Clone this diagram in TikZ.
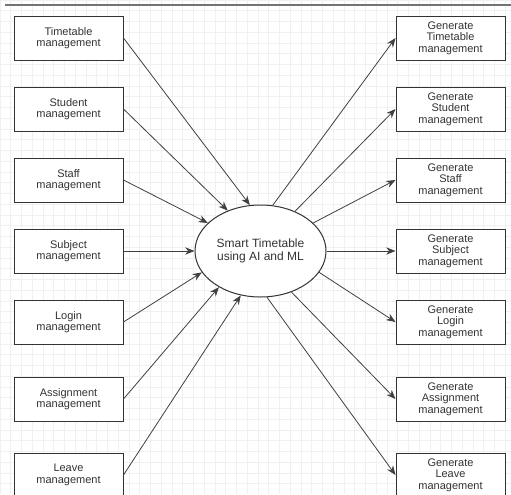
\documentclass[tikz,border=0pt]{standalone}
\usepackage{fontspec}
\setmainfont{Liberation Sans}
\usetikzlibrary{arrows.meta,shapes.geometric}
\definecolor{gridgrey}{HTML}{F0F0F0}
\definecolor{inkgrey}{HTML}{333333}
\tikzset{
  gridline/.style={gridgrey,line width=0.45pt},
  frameline/.style={black!55,line width=0.8pt},
  modbox/.style={draw=inkgrey,line width=0.75pt,fill=white,text=inkgrey,
        minimum width=81.75pt,minimum height=33pt,inner sep=0pt,align=center,
        font=\fontsize{8.25}{8.6}\selectfont},
  hub/.style={ellipse,draw=inkgrey,line width=0.75pt,fill=white,text=inkgrey,
        minimum width=98.25pt,minimum height=69pt,inner sep=0pt,align=center,
        font=\fontsize{9}{10}\selectfont},
  link/.style={draw=black!75,line width=0.6pt,-{Stealth[length=7pt,width=5.5pt]}},
}

\begin{document}
\begin{tikzpicture}[x=0.75pt,y=-0.75pt]
  \useasboundingbox (0,0) rectangle (511,494);
  \clip (0,0) rectangle (511,494);
  % background grid
  \foreach \g in {0,10.75,...,511} \draw[gridline] (\g,0) -- (\g,494);
  \foreach \g in {0,10.75,...,494} \draw[gridline] (0,\g) -- (511,\g);
  \draw[frameline] (5,5) -- (511,5);

  \node[hub] (core) at (260.5,251) {Smart Timetable\\using AI and ML};

  % modules on the left, generated outputs on the right
  \foreach \id/\y/\what/\angin/\angout in {tt/38/Timetable/103/75,
      st/109/Student/129/49, sf/180/Staff/152/28, sb/251/Subject/180/0,
      lg/322/Login/200/340, as/399/Assignment/221/307, lv/475/Leave/246/278} {
    \node[modbox] (in-\id) at (68.5,\y) {\what\\management};
    \node[modbox] (out-\id) at (450.5,\y) {Generate\\\what\\management};
    \draw[link] (in-\id.east) -- (core.\angin);
    \draw[link] (core.\angout) -- (out-\id.west);
  }
\end{tikzpicture}
\end{document}
